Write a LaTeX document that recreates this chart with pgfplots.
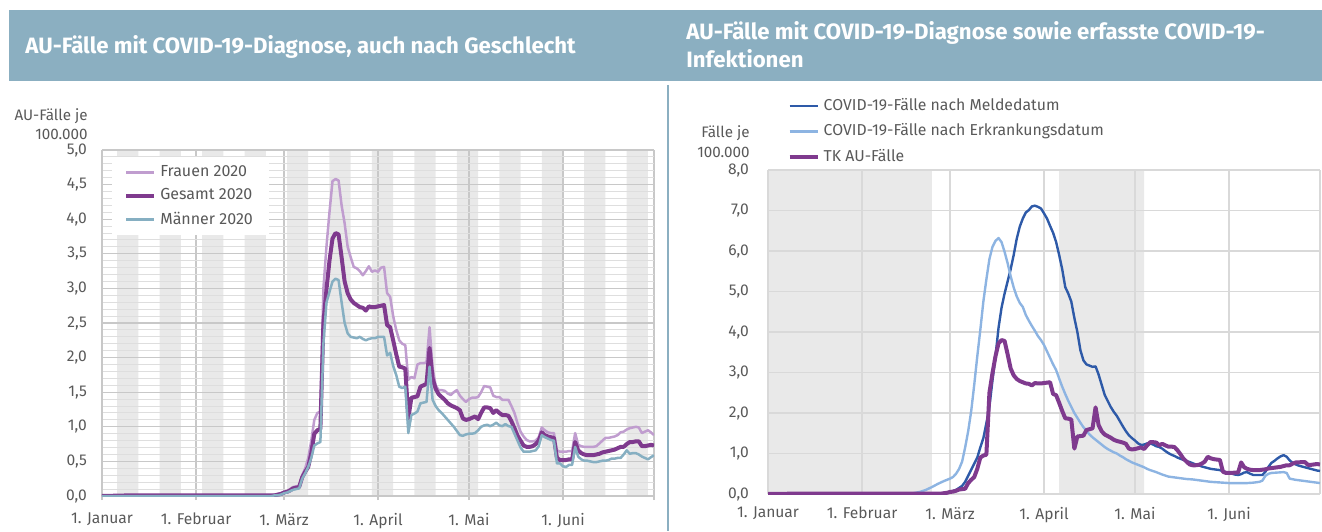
\documentclass[border=0pt]{standalone}
\usepackage{fontspec}
\setmainfont{Fira Sans}
\usepackage{pgfplots}
\pgfplotsset{compat=1.18}
\usepackage{pgfplotstable}
\definecolor{hdr}{RGB}{139,175,193}
\definecolor{txt}{RGB}{89,89,89}
\definecolor{band}{RGB}{233,233,233}
\definecolor{gmaj}{RGB}{200,200,200}
\definecolor{gmin}{RGB}{222,222,222}
\definecolor{rgrid}{RGB}{217,217,217}
\definecolor{frauen}{RGB}{192,157,207}
\definecolor{gesamt}{RGB}{127,58,142}
\definecolor{maenner}{RGB}{134,175,194}
\definecolor{melde}{RGB}{46,90,168}
\definecolor{erkr}{RGB}{141,180,226}

\pgfplotstableread{
day f g m
0 0.01 0 0
10 0.01 0.01 0
20 0.01 0.01 0
30 0.01 0.01 0
40 0.01 0.01 0
50 0.01 0.01 0
56 0.01 0.01 0
57 0.02 0.01 0.01
58 0.03 0.02 0.01
59 0.04 0.03 0.02
60 0.06 0.05 0.04
61 0.07 0.06 0.05
62 0.10 0.08 0.07
63 0.13 0.11 0.09
64 0.14 0.12 0.10
65 0.15 0.13 0.11
66 0.30 0.27 0.25
67 0.40 0.35 0.33
68 0.55 0.42 0.42
69 0.80 0.62 0.55
70 1.10 0.90 0.73
71 1.20 0.95 0.76
72 1.22 0.97 0.78
73 3.00 2.50 2.20
74 3.60 2.98 2.79
75 4.10 3.40 2.95
76 4.55 3.72 3.10
77 4.58 3.80 3.14
78 4.56 3.78 3.12
79 4.20 3.45 2.80
80 3.94 3.10 2.50
81 3.60 2.93 2.35
82 3.45 2.84 2.30
83 3.31 2.79 2.29
84 3.29 2.76 2.28
85 3.25 2.73 2.30
86 3.19 2.72 2.27
87 3.25 2.68 2.25
88 3.32 2.74 2.27
89 3.24 2.73 2.28
90 3.26 2.73 2.28
91 3.24 2.74 2.30
92 3.30 2.75 2.30
93 3.31 2.76 2.30
94 2.93 2.47 2.03
95 2.88 2.44 2.07
96 2.60 2.25 1.88
97 2.40 2.05 1.75
98 2.25 1.87 1.58
99 2.20 1.86 1.56
100 2.18 1.84 1.58
101 1.68 1.12 0.91
102 1.72 1.42 1.17
103 1.70 1.43 1.19
104 1.90 1.44 1.22
105 1.92 1.58 1.34
106 1.92 1.60 1.35
107 1.93 1.62 1.36
108 2.44 2.14 1.87
109 1.85 1.70 1.39
110 1.60 1.55 1.30
111 1.53 1.47 1.24
112 1.53 1.43 1.20
113 1.52 1.39 1.15
114 1.48 1.34 1.10
115 1.46 1.31 1.05
116 1.50 1.29 1.00
117 1.53 1.27 0.94
118 1.45 1.24 0.88
119 1.40 1.12 0.87
120 1.36 1.10 0.89
121 1.40 1.11 0.90
122 1.42 1.13 0.90
123 1.42 1.15 0.91
124 1.43 1.11 0.95
125 1.50 1.20 1.00
126 1.59 1.28 1.02
127 1.58 1.28 1.03
128 1.57 1.27 1.01
129 1.45 1.20 1.03
130 1.43 1.24 1.06
131 1.43 1.20 1.02
132 1.39 1.17 1.01
133 1.39 1.17 1.04
134 1.39 1.16 1.01
135 1.30 1.08 1.00
136 1.20 0.98 0.90
137 1.05 0.87 0.80
138 0.93 0.80 0.70
139 0.86 0.73 0.64
140 0.81 0.71 0.64
141 0.79 0.71 0.64
142 0.79 0.72 0.65
143 0.80 0.75 0.66
144 0.85 0.80 0.72
145 0.99 0.92 0.88
146 0.95 0.88 0.85
147 0.92 0.86 0.83
148 0.91 0.85 0.81
149 0.91 0.84 0.80
150 0.66 0.55 0.47
151 0.64 0.52 0.47
152 0.64 0.52 0.43
153 0.64 0.52 0.42
154 0.65 0.53 0.45
155 0.65 0.53 0.45
156 0.91 0.78 0.71
157 0.74 0.66 0.57
158 0.72 0.62 0.53
159 0.71 0.60 0.51
160 0.71 0.59 0.51
161 0.71 0.59 0.50
162 0.71 0.59 0.49
163 0.72 0.60 0.49
164 0.76 0.61 0.50
165 0.80 0.63 0.51
166 0.84 0.64 0.51
167 0.84 0.65 0.52
168 0.85 0.66 0.54
169 0.86 0.67 0.54
170 0.88 0.69 0.55
171 0.92 0.71 0.55
172 0.93 0.71 0.60
173 0.96 0.75 0.66
174 0.98 0.78 0.61
175 0.99 0.78 0.62
176 1.00 0.79 0.62
177 0.99 0.79 0.60
178 0.91 0.72 0.57
179 0.93 0.72 0.55
180 0.95 0.73 0.53
181 0.92 0.74 0.56
182 0.88 0.73 0.59
}\leftdata

\pgfplotstableread{
day v
0 0
50 0
56 0.01
58 0.02
60 0.05
62 0.10
64 0.20
65 0.30
66 0.45
67 0.60
68 0.75
69 0.90
70 1.15
71 1.38
72 1.75
73 2.15
74 2.80
75 3.40
76 4.10
77 4.60
78 4.95
79 5.25
80 5.55
81 5.90
82 6.30
83 6.60
84 6.80
85 6.95
86 7.01
87 7.10
88 7.12
89 7.09
90 7.05
91 6.93
92 6.80
93 6.62
94 6.45
95 6.22
96 5.90
97 5.55
98 5.11
99 4.95
100 4.75
101 4.35
102 4.00
103 3.55
104 3.30
105 3.20
106 3.17
107 3.14
108 3.15
109 2.95
110 2.70
111 2.45
112 2.30
113 2.15
114 2.03
115 1.93
116 1.80
117 1.67
118 1.55
119 1.45
120 1.38
121 1.32
122 1.25
123 1.21
124 1.22
125 1.25
126 1.25
127 1.22
128 1.18
129 1.16
130 1.12
131 1.06
132 1.01
133 0.97
134 0.94
135 0.90
136 0.87
137 0.84
138 0.81
139 0.79
140 0.76
141 0.73
142 0.71
143 0.68
144 0.66
145 0.64
146 0.62
147 0.61
148 0.60
149 0.59
150 0.56
151 0.54
152 0.52
153 0.50
154 0.48
155 0.47
156 0.49
157 0.53
158 0.54
159 0.50
160 0.47
161 0.47
162 0.47
163 0.47
164 0.55
165 0.67
166 0.77
167 0.82
168 0.88
169 0.93
170 0.96
171 0.92
172 0.83
173 0.77
174 0.73
175 0.70
176 0.68
177 0.66
178 0.64
179 0.62
180 0.60
181 0.58
182 0.57
}\meldedata

\pgfplotstableread{
day v
0 0
45 0.01
48 0.02
50 0.05
52 0.10
54 0.17
56 0.25
58 0.32
60 0.38
61 0.42
62 0.50
63 0.62
64 0.80
65 1.15
66 1.55
67 2.05
68 2.70
69 3.40
70 4.05
71 4.75
72 5.30
73 5.80
74 6.10
75 6.25
76 6.32
77 6.22
78 5.98
79 5.70
80 5.38
81 5.10
82 4.88
83 4.72
84 4.62
85 4.42
86 4.28
87 4.15
88 4.03
89 3.90
90 3.80
91 3.68
92 3.52
93 3.36
94 3.20
95 3.06
96 2.85
97 2.65
98 2.47
99 2.30
100 2.15
101 2.00
102 1.88
103 1.76
104 1.65
105 1.56
106 1.47
107 1.40
108 1.34
109 1.28
110 1.22
111 1.16
112 1.11
113 1.07
114 1.03
115 1.00
116 0.95
117 0.91
118 0.86
119 0.82
120 0.78
121 0.75
122 0.72
123 0.69
124 0.66
125 0.62
126 0.59
128 0.54
130 0.48
132 0.43
134 0.41
136 0.39
138 0.37
140 0.36
142 0.34
144 0.32
146 0.30
148 0.29
150 0.28
152 0.27
154 0.27
156 0.27
158 0.27
160 0.28
162 0.30
163 0.33
164 0.45
165 0.50
166 0.52
168 0.53
170 0.54
171 0.52
172 0.38
174 0.35
176 0.33
178 0.31
180 0.29
182 0.27
}\erkrdata

\pgfplotstableread{
x y
5 5
12 0
19 5
26 0
33 5
40 0
47 5
54 0
61 5
68 0
75 5
82 0
89 5
96 0
103 5
110 0
117 5
124 0
131 5
138 0
145 5
152 0
159 5
166 0
173 5
180 0
}\leftbands

\pgfplotstableread{
x y
0 8
54 0
96 8
124 0
182 0
}\rightbands

\pgfplotsset{
  common/.style={
    scale only axis,
    anchor=south west,
    xmin=0, xmax=182,
    xtick={0,31,60,91,121,152,182},
    xticklabels={1. Januar,1. Februar,1. März,1. April,1. Mai,1. Juni,},
    font=\fontsize{7.8}{9}\selectfont,
    tick label style={text=txt},
    /pgf/number format/assume math mode=true,
    y tick label style={/pgf/number format/fixed, /pgf/number format/fixed zerofill,
      /pgf/number format/precision=1, /pgf/number format/use comma},
    legend cell align=left,
    legend image code/.code={\draw[#1] (0pt,0pt) -- (14pt,0pt);},
    every axis plot/.append style={line join=round},
  },
  bandaxis/.style={
    scale only axis, anchor=south west, hide axis,
    xmin=0, xmax=182,
  }
}

\begin{document}
\begin{tikzpicture}
\useasboundingbox (0,0) rectangle (661pt,265.5pt);
\fill[hdr] (4.5pt,225pt) rectangle (661pt,260.5pt);
\node[anchor=base west, inner sep=0pt, text=white, font=\fontsize{11.1}{12}\selectfont\bfseries] at (12.5pt,238.5pt) {AU-Fälle mit COVID-19-Diagnose, auch nach Geschlecht};
\node[anchor=base west, inner sep=0pt, text=white, font=\fontsize{11.1}{12}\selectfont\bfseries] at (343pt,245.5pt) {AU-Fälle mit COVID-19-Diagnose sowie erfasste COVID-19-};
\node[anchor=base west, inner sep=0pt, text=white, font=\fontsize{11.1}{12}\selectfont\bfseries] at (343pt,231.5pt) {Infektionen};
\draw[hdr, line width=1pt] (334pt,223pt) -- (334pt,0pt);

\node[anchor=east, align=right, inner sep=0pt, text=txt, font=\fontsize{7.6}{9.4}\selectfont] at (44pt,203.6pt) {AU-Fälle je\\100.000};
\node[anchor=east, align=right, inner sep=0pt, text=txt, font=\fontsize{7.6}{10.2}\selectfont] at (375pt,194.6pt) {Fälle je\\100.000};

% left chart: weekly bands
\begin{axis}[bandaxis, at={(51pt,17.5pt)}, width=276pt, height=173pt, ymin=0, ymax=5]
\addplot[ybar interval, fill=band, draw=none] table[x=x, y=y] {\leftbands};
\end{axis}
% left chart
\begin{axis}[common,
  at={(51pt,17.5pt)}, width=276pt, height=173pt,
  ymin=0, ymax=5, ytick={0,0.5,...,5},
  minor y tick num=4,
  ymajorgrids, yminorgrids, xmajorgrids,
  major grid style={draw=gmaj, line width=0.6pt},
  minor grid style={draw=gmin, line width=0.5pt},
  axis lines*=left,
  axis line style={draw=gmaj, line width=0.8pt},
  ytick style={draw=none}, minor tick style={draw=none},
  xtick style={draw=gmaj, line width=0.6pt},
  tick align=outside, major tick length=2pt,
  yticklabel style={xshift=-2pt},
  xticklabel style={yshift=-3pt},
  legend style={at={(rel axis cs:0.018,0.98)}, anchor=north west, draw=none, fill=white,
    font=\fontsize{8}{9}\selectfont, text=txt, row sep=0.6pt, inner xsep=6pt, inner ysep=2pt},
]
\addplot[frauen, line width=1.25pt] table[x=day, y=f] {\leftdata};
\addlegendentry{Frauen 2020}
\addplot[gesamt, line width=2pt] table[x=day, y=g] {\leftdata};
\addlegendentry{Gesamt 2020}
\addplot[maenner, line width=1.25pt] table[x=day, y=m] {\leftdata};
\addlegendentry{Männer 2020}
\end{axis}

% right chart: bands
\begin{axis}[bandaxis, at={(384pt,18.5pt)}, width=276pt, height=162pt, ymin=0, ymax=8]
\addplot[ybar interval, fill=band, draw=none] table[x=x, y=y] {\rightbands};
\end{axis}
% right chart
\begin{axis}[common,
  at={(384pt,18.5pt)}, width=276pt, height=162pt,
  ymin=0, ymax=8, ytick={0,1,...,8},
  ymajorgrids, xmajorgrids,
  major grid style={draw=rgrid, line width=0.8pt},
  axis line style={draw=none},
  tick style={draw=none},
  yticklabel style={xshift=-6pt},
  xticklabel style={yshift=-3pt},
  legend style={at={(rel axis cs:0.035,1.235)}, anchor=north west, draw=none, fill=none,
    font=\fontsize{7.9}{9}\selectfont, text=txt, row sep=1.2pt, inner sep=0pt},
]
\addplot[melde, line width=1.2pt] table[x=day, y=v] {\meldedata};
\addlegendentry{COVID-19-Fälle nach Meldedatum}
\addplot[erkr, line width=1.2pt] table[x=day, y=v] {\erkrdata};
\addlegendentry{COVID-19-Fälle nach Erkrankungsdatum}
\addplot[gesamt, line width=2pt] table[x=day, y=g] {\leftdata};
\addlegendentry{TK AU-Fälle}
\end{axis}
\end{tikzpicture}
\end{document}
